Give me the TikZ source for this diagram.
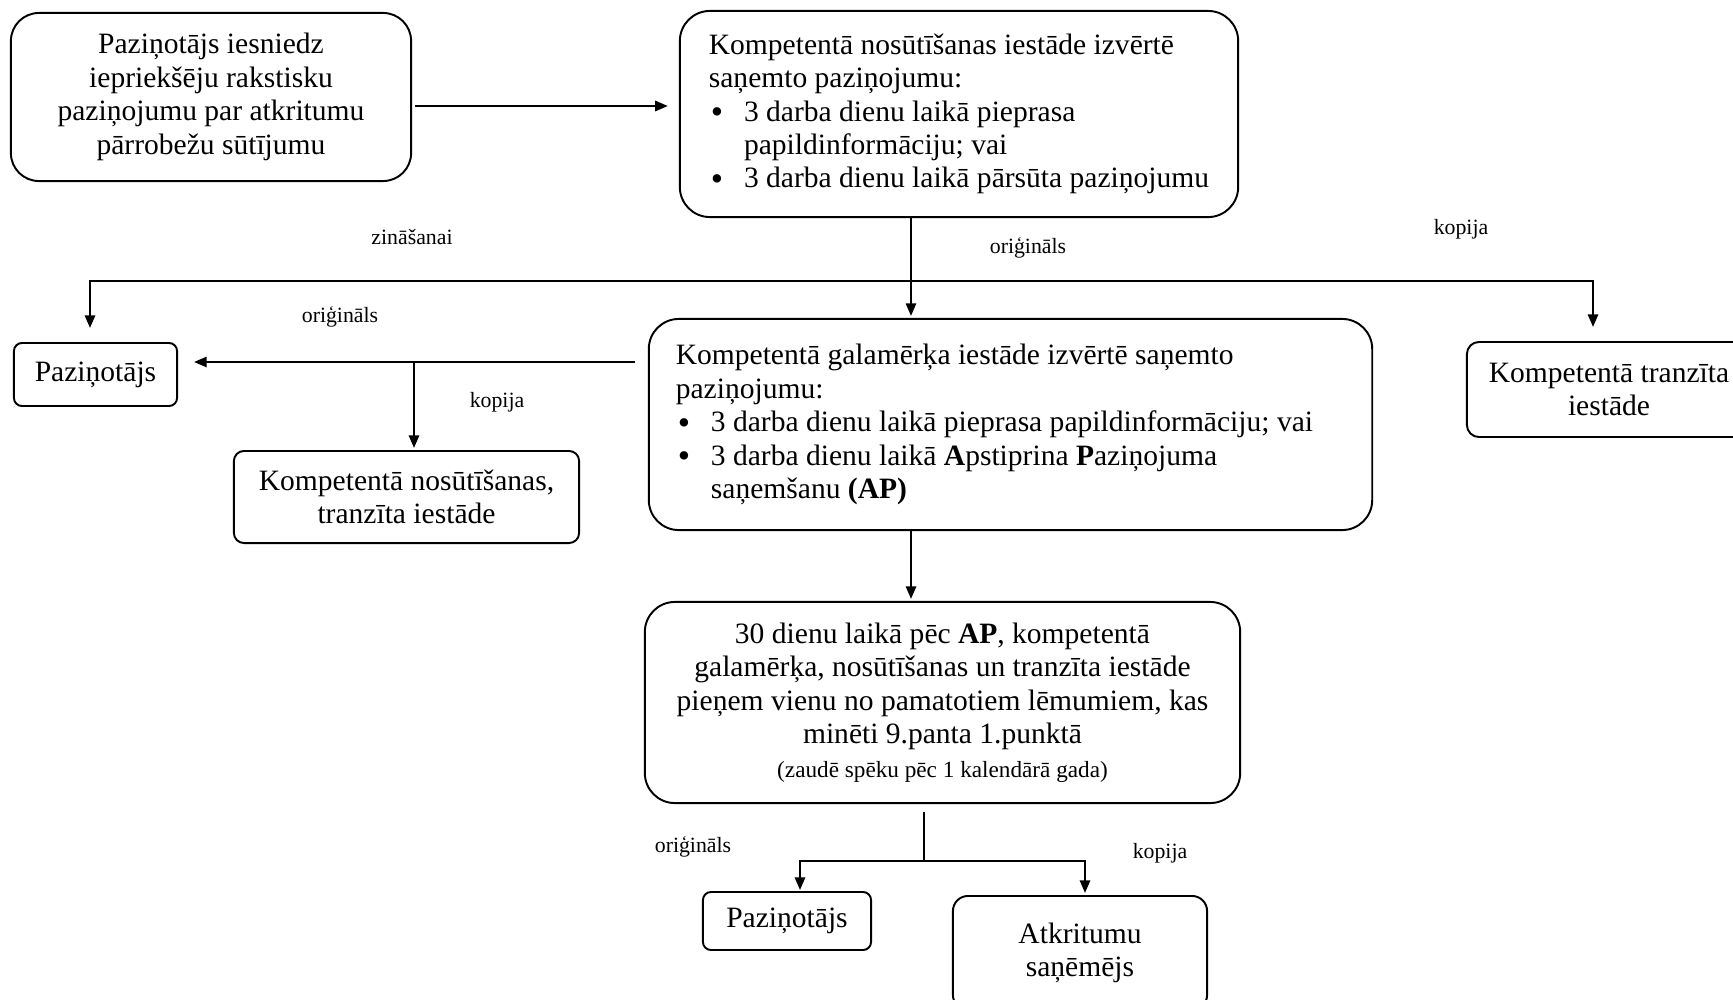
\documentclass[tikz,border=0pt]{standalone}
\usepackage{fontspec}
\setmainfont{Liberation Serif}
\usetikzlibrary{arrows.meta, calc}
\newlength{\bulletind}
\setlength{\bulletind}{10pt}
\newcommand{\blt}{\makebox[\bulletind][l]{\hspace{0.6pt}\raisebox{-0.7pt}{\fontsize{10}{0}\selectfont\textbullet}}}

\begin{document}
\begin{tikzpicture}[
    x=0.01cm, y=-0.01cm,
    every node/.style={font=\fontsize{8.4}{9.5}\selectfont},
    box/.style={draw, line width=0.55pt, align=center, inner sep=0pt},
    lbl/.style={font=\fontsize{6.2}{7.4}\selectfont},
    arr/.style={-{Triangle[length=3.6pt, width=2.9pt]}, line width=0.65pt},
    ln/.style={line width=0.65pt}
  ]
  \useasboundingbox (0,0) rectangle (1733,1000);

  \node[box, minimum width=4cm, minimum height=1.68cm, rounded corners=0.28cm] (notify) at (211,97) {Paziņotājs iesniedz\\ iepriekšēju rakstisku\\ paziņojumu par atkritumu\\ pārrobežu sūtījumu};

  \node[box, align=left, minimum width=5.58cm, minimum height=2.06cm, rounded corners=0.3cm] (dispatch) at (959,114) {Kompetentā nosūtīšanas iestāde izvērtē\\ saņemto paziņojumu:\\ \blt 3 darba dienu laikā pieprasa\\ \hspace*{\bulletind}papildinformāciju; vai\\ \blt 3 darba dienu laikā pārsūta paziņojumu};

  \node[box, minimum width=1.63cm, minimum height=0.63cm, rounded corners=0.08cm] (notifyA) at (95.5,374.5) {Paziņotājs};

  \node[box, align=flush left, text width=6.69cm, inner xsep=0.27cm, minimum height=2.11cm, rounded corners=0.3cm] (dest) at (1010.5,424.5) {Kompetentā galamērķa iestāde izvērtē saņemto\\ paziņojumu:\\ \blt 3 darba dienu laikā pieprasa papildinformāciju; vai\\ \blt 3 darba dienu laikā \textbf{A}pstiprina \textbf{P}aziņojuma\\ \hspace*{\bulletind}saņemšanu \textbf{(AP)}};

  \node[box, minimum width=2.84cm, minimum height=0.95cm, rounded corners=0.12cm] (transit) at (1609,389.5) {Kompetentā tranzīta\\ iestāde};

  \node[box, minimum width=3.45cm, minimum height=0.92cm, rounded corners=0.1cm] (dispatchB) at (406.5,497) {Kompetentā nosūtīšanas,\\ tranzīta iestāde};

  \node[box, minimum width=5.95cm, minimum height=2.01cm, rounded corners=0.3cm] (decision) at (942.5,702.5) {30 dienu laikā pēc \textbf{AP}, kompetentā\\ galamērķa, nosūtīšanas un tranzīta iestāde\\ pieņem vienu no pamatotiem lēmumiem, kas\\ minēti 9.panta 1.punktā\\ {\fontsize{6.6}{8}\selectfont (zaudē spēku pēc 1 kalendārā gada)}};

  \node[box, minimum width=1.68cm, minimum height=0.58cm, rounded corners=0.08cm] (notifyB) at (787,921) {Paziņotājs};

  \node[box, minimum width=2.54cm, minimum height=1.14cm, rounded corners=0.15cm] (receiver) at (1080,953) {Atkritumu\\ saņēmējs};

  \coordinate (arrowrow) at (0,106);
  \coordinate (topsplit) at (911,281);
  \coordinate (leftcorner) at (90,281);
  \coordinate (rightcorner) at (1593,281);
  \coordinate (midsplit) at (414,362);
  \coordinate (lowsplit) at (924,861);
  \coordinate (lowleft) at (800,861);
  \coordinate (lowright) at (1085,861);

  \draw[arr, shorten <=0.03cm, shorten >=0.11cm] (notify.east |- arrowrow) -- (dispatch.west |- arrowrow);

  \draw[ln] (dispatch.south -| topsplit) -- (topsplit);
  \draw[arr, shorten >=0.02cm] (topsplit) -- (dest.north -| topsplit);
  \draw[arr, shorten >=0.14cm] (topsplit) -- (leftcorner) -- (leftcorner |- notifyA.north);
  \draw[arr, shorten >=0.14cm] (topsplit) -- (rightcorner) -- (rightcorner |- transit.north);

  \draw[arr, shorten <=0.13cm, shorten >=0.16cm] (dest.west |- midsplit) -- (notifyA.east |- midsplit);
  \draw[arr, shorten >=0.02cm] (midsplit) -- (dispatchB.north -| midsplit);

  \draw[arr, shorten >=0.02cm] (dest.south -| topsplit) -- (decision.north -| topsplit);

  \draw[ln, shorten <=0.08cm] (decision.south -| lowsplit) -- (lowsplit);
  \draw[arr, shorten >=0.01cm] (lowsplit) -- (lowleft) -- (lowleft |- notifyB.north);
  \draw[arr, shorten >=0.02cm] (lowsplit) -- (lowright) -- (lowright |- receiver.north);

  \node[lbl] (lblinfo) at (412,237) {zināšanai};
  \node[lbl] (lblorigA) at (1028,248) {oriģināls};
  \node[lbl] (lblcopyA) at (1461,229) {kopija};
  \node[lbl] (lblorigB) at (340,317) {oriģināls};
  \node[lbl] (lblcopyB) at (497,402) {kopija};
  \node[lbl] (lblorigC) at (693,847) {oriģināls};
  \node[lbl] (lblcopyC) at (1160,853) {kopija};

\end{tikzpicture}
\end{document}
